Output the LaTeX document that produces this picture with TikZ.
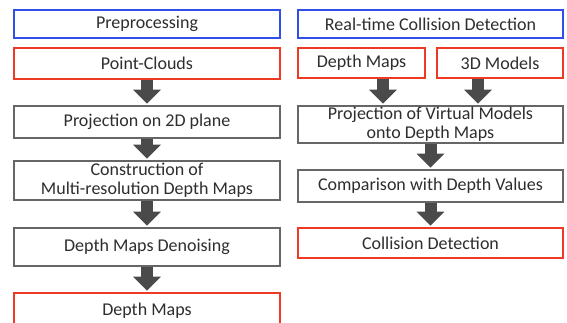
\documentclass[tikz,border=0pt]{standalone}
\usepackage{fontspec}
\setmainfont{Carlito}
\usetikzlibrary{arrows.meta}
\definecolor{bluebox}{HTML}{2F4FE8}
\definecolor{redbox}{HTML}{EE3A24}
\definecolor{graybox}{HTML}{666666}
\definecolor{arrowgray}{HTML}{4A4A4A}
\definecolor{txt}{HTML}{2E2E2E}
\tikzset{
  box/.style={draw, line width=1.6pt, fill=white, text=txt, font=\fontsize{18}{19}\selectfont, align=center, inner sep=0pt},
  headbox/.style={box, draw=bluebox},
  databox/.style={box, draw=redbox},
  procbox/.style={box, draw=graybox},
  bigarrow/.style={draw=arrowgray, line width=12pt, -{Triangle[width=27pt,length=14pt,fill=arrowgray]}, shorten >=1.5pt}
}
\begin{document}
\begin{tikzpicture}[x=1pt,y=-1pt]
\useasboundingbox (0,0) rectangle (567,322);
\clip (0,0) rectangle (567,322);
% left column
\node[headbox, minimum width=266pt, minimum height=28pt] (pre) at (147,24) {Preprocessing};
\node[databox, minimum width=266pt, minimum height=31pt] (pc) at (147,63.5) {Point-Clouds};
\node[procbox, minimum width=266pt, minimum height=32pt] (proj) at (147,122) {Projection on 2D plane};
\node[procbox, minimum width=266pt, minimum height=39pt] (cons) at (147,180.5) {Construction of\\Multi-resolution Depth Maps};
\node[procbox, minimum width=266pt, minimum height=38pt] (den) at (147,247) {Depth Maps Denoising};
\node[databox, minimum width=266pt, minimum height=36pt] (dml) at (147,311) {Depth Maps};
\draw[bigarrow] (pc.south) -- (proj.north);
\draw[bigarrow] (proj.south) -- (cons.north);
\draw[bigarrow] (cons.south) -- (den.north);
\draw[bigarrow] (den.south) -- (dml.north);
% right column
\node[headbox, minimum width=265pt, minimum height=28pt] (rt) at (430.5,24) {Real-time Collision Detection};
\node[databox, minimum width=127pt, minimum height=30pt] (dmr) at (361.5,63) {Depth Maps};
\node[databox, minimum width=126pt, minimum height=30pt] (tdm) at (500,63) {3D Models};
\node[procbox, minimum width=265pt, minimum height=37pt] (pv) at (430.5,124.5) {Projection of Virtual Models\\onto Depth Maps};
\node[procbox, minimum width=265pt, minimum height=32pt] (cmp) at (430.5,186) {Comparison with Depth Values};
\node[databox, minimum width=265pt, minimum height=30pt] (col) at (430.5,243) {Collision Detection};
\coordinate (ax1) at (383,0);
\coordinate (ax2) at (478,0);
\draw[bigarrow] (dmr.south -| ax1) -- (pv.north -| ax1);
\draw[bigarrow] (tdm.south -| ax2) -- (pv.north -| ax2);
\draw[bigarrow] (pv.south) -- (cmp.north);
\draw[bigarrow] (cmp.south) -- (col.north);
\end{tikzpicture}
\end{document}
